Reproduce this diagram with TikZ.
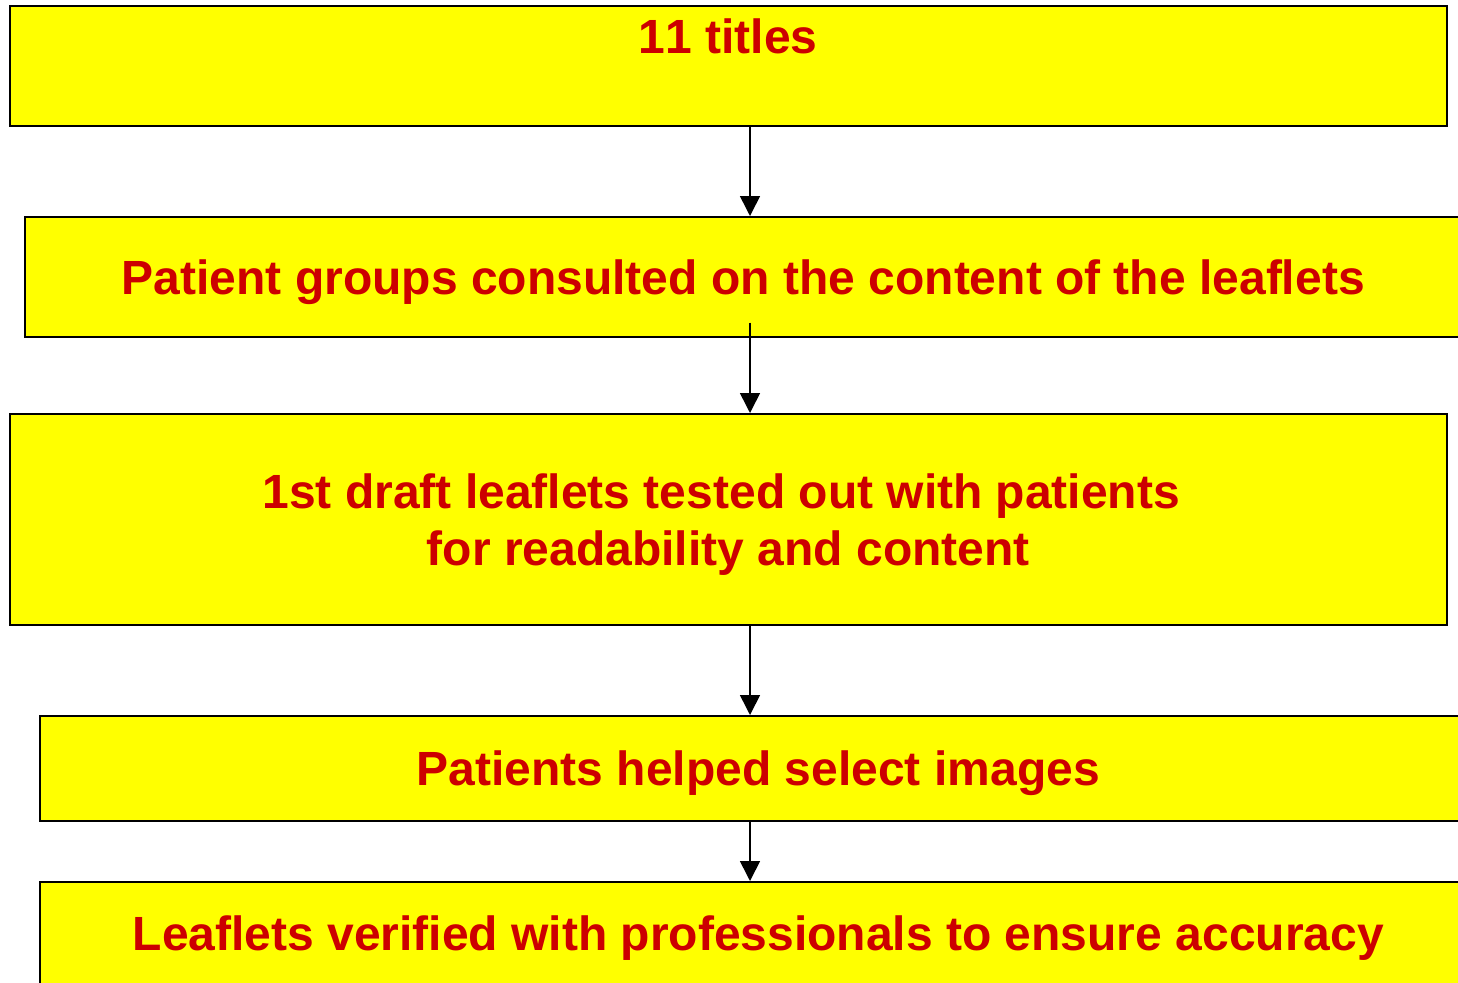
\documentclass[tikz,border=0pt]{standalone}
\usepackage{fontspec}
\setmainfont[Kerning=Off]{Liberation Sans}
\usetikzlibrary{positioning, arrows.meta}
\definecolor{boxyellow}{RGB}{255,255,0}
\definecolor{boxred}{RGB}{204,0,0}

\begin{document}
\begin{tikzpicture}
        [
            x=1pt, y=-1pt,
            stage/.style={rectangle, draw, line width=1.6pt, fill=boxyellow,
                          minimum width=1437pt, inner sep=0pt, anchor=north west,
                          text=boxred, align=center, text depth=0pt,
                          font=\fontsize{48}{57}\selectfont\bfseries},
            caption/.style={text=boxred, inner sep=0pt,
                            font=\fontsize{48}{57}\selectfont\bfseries},
            flow/.style={line width=1.6pt, -{Triangle[width=20pt,length=20pt]}}
        ]
        \useasboundingbox (0,0) rectangle (1458,982);
        \clip (0,0) rectangle (1458,982);
        \node (titles) [stage, minimum height=120pt] at (9,5) {};
        \node (titlestext) [caption, anchor=north]
              at ([yshift=-14pt]titles.north) {11 titles};
        \node (groups) [stage, minimum height=120pt] at (24,216)
              {Patient groups consulted on the content of the leaflets};
        \node (draft) [stage, minimum height=211pt] at (9,413)
              {1st draft leaflets tested out with patients\hspace*{14pt} \\ for readability and content};
        \node (images) [stage, minimum height=105pt] at (39,715)
              {Patients helped select images};
        \node (verify) [stage, minimum height=110pt] at (39,881) {};
        \node (verifytext) [caption] at ([yshift=-57pt]verify.north)
              {Leaflets verified with professionals to ensure accuracy};
        % arrows all run down the same vertical line
        \coordinate (axis) at (750,0);
        \draw [flow] (titles.south -| axis) -- (groups.north -| axis);
        \draw [flow] ([yshift=15pt]groups.south -| axis) -- (draft.north -| axis);
        \foreach \i/\j in {draft/images,images/verify}
            \draw [flow] (\i.south -| axis) -- (\j.north -| axis);
    \end{tikzpicture}
\end{document}
